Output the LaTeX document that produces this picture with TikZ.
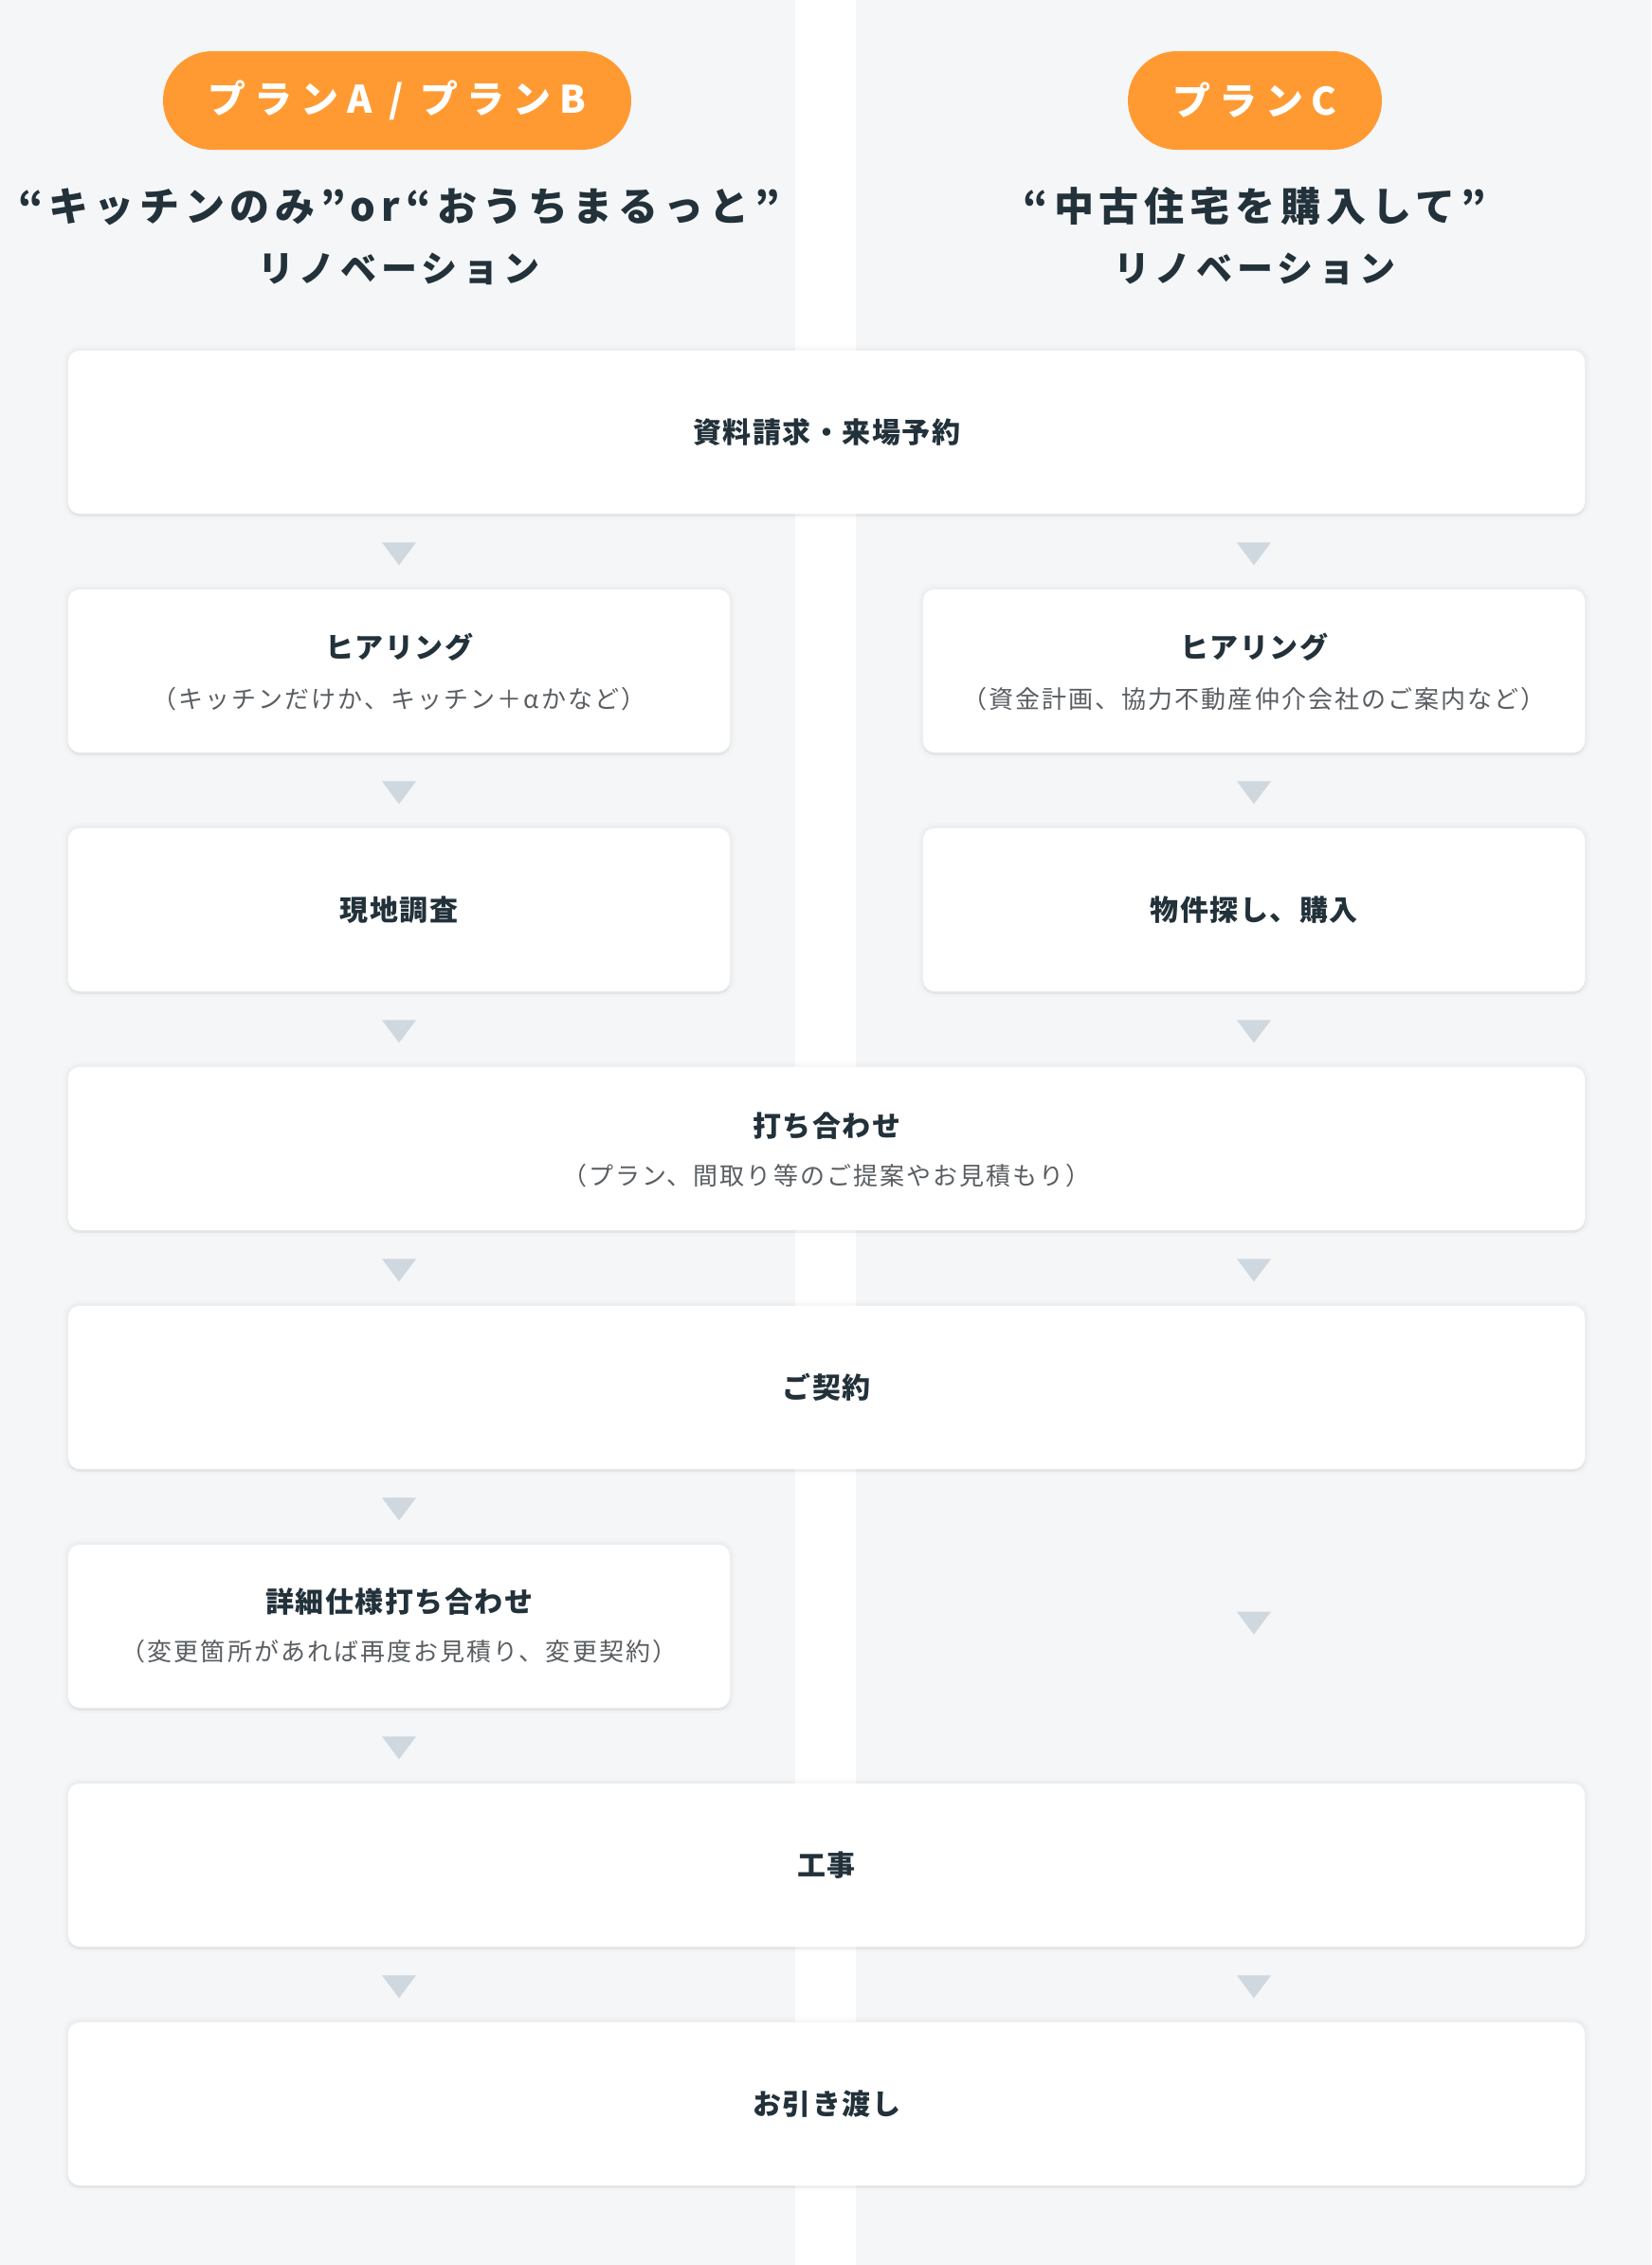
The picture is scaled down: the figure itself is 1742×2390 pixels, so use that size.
\documentclass[tikz,border=0pt]{standalone}
\usepackage{fontspec}
\setmainfont{Noto Sans CJK JP}
\newfontfamily\headfont{Noto Sans CJK JP}[LetterSpace=14]
\newfontfamily\pillfont{Noto Sans CJK JP}[LetterSpace=22]
\newfontfamily\boxfont{Noto Sans CJK JP}[LetterSpace=5]
\newfontfamily\notefont{Noto Sans CJK JP}[LetterSpace=8]
\usetikzlibrary{shapes.misc}
\definecolor{bggray}{HTML}{F4F6F8}
\definecolor{planorange}{HTML}{FF9A33}
\definecolor{inkdark}{HTML}{22313A}
\definecolor{notegray}{HTML}{5A5E62}
\definecolor{pointgray}{HTML}{CFD8DF}
\tikzset{
  planpill/.style={rounded rectangle, fill=planorange, text=white, minimum height=52pt, inner sep=0pt,
    font=\pillfont\bfseries\fontsize{20}{20}\selectfont},
  plantitle/.style={text=inkdark, inner sep=0pt, font=\headfont\bfseries\fontsize{19}{19}\selectfont},
  planquote/.style={plantitle, font=\headfont\bfseries\fontsize{21}{21}\selectfont},
  stepbox/.style={rectangle, rounded corners=6pt, fill=white, minimum height=86pt,
    preaction={draw=black, line width=6pt, opacity=0.012},
    preaction={draw=black, line width=3pt, opacity=0.02},
    preaction={fill=black, opacity=0.035, transform canvas={yshift=-1.5pt}}},
  widebox/.style={stepbox, minimum width=800pt},
  halfbox/.style={stepbox, minimum width=349pt},
  steptitle/.style={text=inkdark, inner sep=0pt, font=\boxfont\bfseries\fontsize{15}{15}\selectfont},
  stepnote/.style={text=notegray, inner sep=0pt, font=\notefont\fontsize{13}{13}\selectfont},
  pics/pointer/.style={code={\fill[pointgray] (-18,-12) -- (18,-12) -- (0,12) -- cycle;}}
}
\begin{document}
\begin{tikzpicture}[x=0.5pt,y=-0.5pt]  %1 unidade = 1 px da imagem
            %Fundo
  \useasboundingbox (0,0) rectangle (1742,2390);
  \fill[bggray] (0,0) rectangle (1742,2390);
  \fill[white] (839,0) rectangle (903,2390); %Faixa central
  \coordinate (laneA) at (421,0);
  \coordinate (laneB) at (1323,0);
            %Cabecalhos
  \node[planpill, minimum width=247pt] (pillA) at (419,106) {プランA / プランB};
  \node[planpill, minimum width=134pt] (pillC) at (1324,106) {プランC};
  \node[planquote] (headA1) at (421,218) {“キッチンのみ”or“おうちまるっと”};
  \node[plantitle] (headA2) at (421,284) {リノベーション};
  \node[planquote] (headC1) at (1324,218) {“中古住宅を購入して”};
  \node[plantitle] (headC2) at (1324,284) {リノベーション};
            %Caixas
  \node[widebox] (req) at (872,456) {};
  \node[steptitle] (reqT) at (872,456) {資料請求・来場予約};
  \node[halfbox] (hearA) at (421,708) {};
  \node[steptitle] (hearAT) at (421,683) {ヒアリング};
  \node[stepnote] (hearAN) at (421,738) {（キッチンだけか、キッチン＋αかなど）};
  \node[halfbox] (hearB) at (1323,708) {};
  \node[steptitle] (hearBT) at (1323,683) {ヒアリング};
  \node[stepnote] (hearBN) at (1323,738) {（資金計画、協力不動産仲介会社のご案内など）};
  \node[halfbox] (surveyA) at (421,960) {};
  \node[steptitle] (surveyAT) at (421,960) {現地調査};
  \node[halfbox] (buyB) at (1323,960) {};
  \node[steptitle] (buyBT) at (1323,960) {物件探し、購入};
  \node[widebox] (meet) at (872,1212) {};
  \node[steptitle] (meetT) at (872,1188) {打ち合わせ};
  \node[stepnote] (meetN) at (872,1241) {（プラン、間取り等のご提案やお見積もり）};
  \node[widebox] (sign) at (872,1464) {};
  \node[steptitle] (signT) at (872,1464) {ご契約};
  \node[halfbox] (detailA) at (421,1716) {};
  \node[steptitle] (detailAT) at (421,1690) {詳細仕様打ち合わせ};
  \node[stepnote] (detailAN) at (421,1743) {（変更箇所があれば再度お見積り、変更契約）};
  \node[widebox] (work) at (872,1968) {};
  \node[steptitle] (workT) at (872,1968) {工事};
  \node[widebox] (hand) at (872,2220) {};
  \node[steptitle] (handT) at (872,2220) {お引き渡し};
            %Setas
  \path (req.south -| laneA) -- (hearA.north) pic[pos=.53]{pointer};
  \path (req.south -| laneB) -- (hearB.north) pic[pos=.53]{pointer};
  \path (hearA.south) -- (surveyA.north) pic[pos=.53]{pointer};
  \path (hearB.south) -- (buyB.north) pic[pos=.53]{pointer};
  \path (surveyA.south) -- (meet.north -| laneA) pic[pos=.53]{pointer};
  \path (buyB.south) -- (meet.north -| laneB) pic[pos=.53]{pointer};
  \path (meet.south -| laneA) -- (sign.north -| laneA) pic[pos=.53]{pointer};
  \path (meet.south -| laneB) -- (sign.north -| laneB) pic[pos=.53]{pointer};
  \path (sign.south -| laneA) -- (detailA.north) pic[pos=.53]{pointer};
  \path (sign.south -| laneB) -- (work.north -| laneB) pic[pos=.49]{pointer}; %Seta sem etapa
  \path (detailA.south) -- (work.north -| laneA) pic[pos=.53]{pointer};
  \path (work.south -| laneA) -- (hand.north -| laneA) pic[pos=.53]{pointer};
  \path (work.south -| laneB) -- (hand.north -| laneB) pic[pos=.53]{pointer};
\end{tikzpicture}
\end{document}
